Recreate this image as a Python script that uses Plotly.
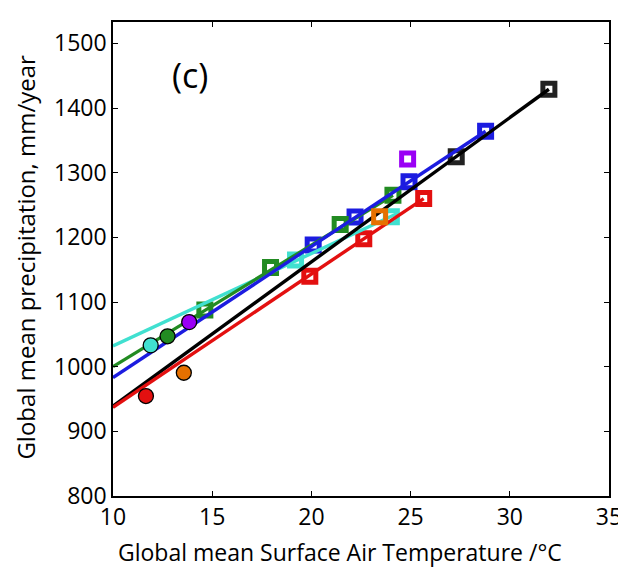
import plotly.graph_objects as go

# ---- data ----
black_sq_x = [27.3, 31.97]
black_sq_y = [1324.5, 1429]

blue_sq_x = [20.09, 22.2, 24.92, 28.78]
blue_sq_y = [1188, 1231.5, 1286, 1364]

green_sq_x = [14.63, 17.94, 21.45, 24.11]
green_sq_y = [1087.5, 1153.5, 1220, 1265]

cyan_sq_x = [19.2, 24.03]
cyan_sq_y = [1164.8, 1231.7]

red_sq_x = [19.92, 22.64, 25.66]
red_sq_y = [1140, 1198, 1260]

orange_sq_x = [23.44]
orange_sq_y = [1231.7]

purple_sq_x = [24.85]
purple_sq_y = [1321]

# filled circles (one per colour)
circle_x = [11.66, 13.57, 11.9, 12.75, 13.84]
circle_y = [954.6, 990.6, 1033, 1047, 1069]
circle_names = ["red", "orange", "cyan", "green", "purple"]

# fitted lines: [x_start, x_end], [y_start, y_end]
black_line_x = [10, 31.97]
black_line_y = [939, 1429]
blue_line_x = [10, 28.78]
blue_line_y = [983, 1364]
red_line_x = [10, 25.66]
red_line_y = [937, 1260]
green_line_x = [10, 24.11]
green_line_y = [1000, 1265]
cyan_line_x = [10, 24.3]
cyan_line_y = [1032, 1236.5]

x_ticks = [10, 15, 20, 25, 30, 35]
y_ticks = [800, 900, 1000, 1100, 1200, 1300, 1400, 1500]

x_title = "Global mean Surface Air Temperature /°C"
y_title = "Global mean precipitation, mm/year"

COL = {
    "black": "#222222",
    "blue": "#1c1ce0",
    "green": "#228b22",
    "cyan": "#40e0d0",
    "red": "#e31010",
    "orange": "#e67000",
    "purple": "#9a00f5",
}
LINECOL = {
    "black": "#000000",
    "blue": "#1c1ce0",
    "green": "#228b22",
    "cyan": "#40e0d0",
    "red": "#e31010",
}

fig = go.Figure()

def squares(xs, ys, c):
    fig.add_trace(go.Scatter(
        x=xs, y=ys, mode="markers", showlegend=False, hoverinfo="skip",
        marker=dict(symbol="square-open", size=12, color=COL[c],
                    line=dict(width=5, color=COL[c]))))

def line(xs, ys, c):
    fig.add_trace(go.Scatter(
        x=xs, y=ys, mode="lines", showlegend=False, hoverinfo="skip",
        line=dict(color=LINECOL[c], width=3.4)))

squares(black_sq_x, black_sq_y, "black")
squares(blue_sq_x, blue_sq_y, "blue")
squares(green_sq_x, green_sq_y, "green")
squares(cyan_sq_x, cyan_sq_y, "cyan")
squares(red_sq_x, red_sq_y, "red")

line(cyan_line_x, cyan_line_y, "cyan")
line(green_line_x, green_line_y, "green")
line(blue_line_x, blue_line_y, "blue")
line(black_line_x, black_line_y, "black")
line(red_line_x, red_line_y, "red")

squares(orange_sq_x, orange_sq_y, "orange")
squares(purple_sq_x, purple_sq_y, "purple")

fig.add_trace(go.Scatter(
    x=circle_x, y=circle_y, mode="markers", showlegend=False, hoverinfo="skip",
    marker=dict(symbol="circle", size=15, color=[COL[n] for n in circle_names],
                line=dict(width=1.3, color="#000000"))))

fig.add_annotation(x=13.9, y=1451, text="(c)", showarrow=False,
                   font=dict(size=34, color="black", family="Open Sans"))

# axis titles as annotations (placed like the reference)
fig.add_annotation(xref="paper", yref="paper", x=0.4577, y=0, yshift=-56,
                   xanchor="center", yanchor="middle", showarrow=False,
                   text=x_title,
                   font=dict(size=23, color="black", family="Open Sans"))
fig.add_annotation(xref="paper", yref="paper", x=0, xshift=-87, y=0.503,
                   xanchor="center", yanchor="middle", showarrow=False,
                   textangle=-90, text=y_title,
                   font=dict(size=24, color="black", family="Open Sans"))

axis_common = dict(
    showgrid=False, zeroline=False, showline=True, linecolor="black",
    linewidth=1.5, mirror="ticks", ticks="inside", ticklen=5, tickwidth=1,
    tickcolor="black", automargin=False,
    tickfont=dict(size=23, color="black", family="Open Sans"),
)

fig.update_xaxes(range=[10, 35], tickvals=x_ticks, **axis_common)
fig.update_yaxes(range=[800, 1533], tickvals=y_ticks, **axis_common)

# the page adds an 8 px body margin, so the figure is sized to fit the window
fig.update_layout(
    width=618, height=564,
    margin=dict(l=105, r=17, t=14, b=76),
    plot_bgcolor="white", paper_bgcolor="white",
    font=dict(family="Open Sans", color="black"),
)

fig.write_html("out.html")
